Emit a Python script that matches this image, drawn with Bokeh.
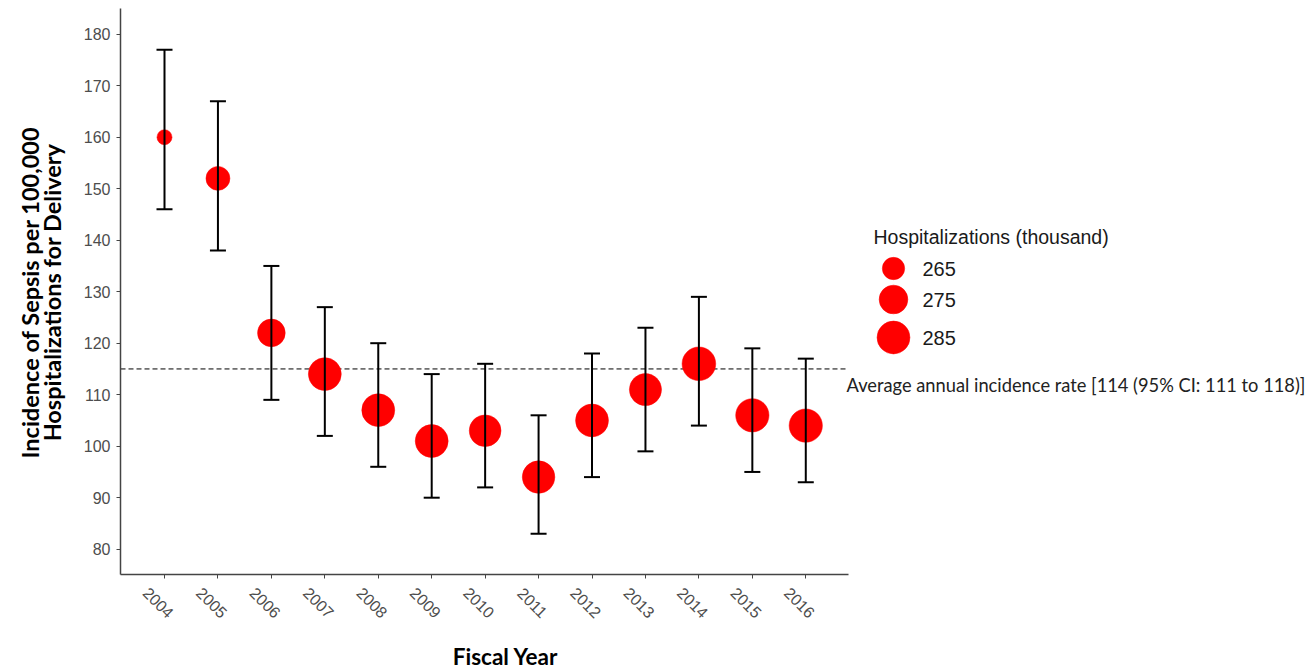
import numpy as np
from bokeh.plotting import figure
from bokeh.models import Range1d, FixedTicker, ColumnDataSource
from bokeh.core.properties import value
from bokeh.embed import file_html
from bokeh.resources import INLINE

# ---------------- data ----------------
years = [2004, 2005, 2006, 2007, 2008, 2009, 2010, 2011, 2012, 2013, 2014, 2015, 2016]
year_labels = [str(y) for y in years]
incidence = [160, 152, 122, 114, 107, 101, 103, 94, 105, 111, 116, 106, 104]
ci_lower = [146, 138, 109, 102, 96, 90, 92, 83, 94, 99, 104, 95, 93]
ci_upper = [177, 167, 135, 127, 120, 114, 116, 106, 118, 123, 129, 119, 117]
hospitalizations = [261, 267, 273, 285, 285, 285, 282, 284, 285, 283, 287, 286, 286]  # thousand
legend_values = [265, 275, 285]
average_rate = 115
average_text = "Average annual incidence rate [114 (95% CI: 111 to 118)]"
y_title_lines = ["Incidence of Sepsis per 100,000", "Hospitalizations for Delivery"]
x_title = "Fiscal Year"
legend_title = "Hospitalizations (thousand)"
y_ticks = list(range(80, 181, 10))

# ---------------- size scale (area-like, like ggplot scale_size) ----------------
V_MIN, V_MAX = 261.0, 288.0
D_MIN, D_MAX = 15.0, 34.0


def size_scale(v):
    v = np.asarray(v, dtype=float)
    return D_MIN + (D_MAX - D_MIN) * np.sqrt(np.clip((v - V_MIN) / (V_MAX - V_MIN), 0, 1))


# ---------------- layout (frame covers the whole canvas) ----------------
W, H = 1309, 671
PX_PER_YEAR = 53.44
X_AXIS_START = 2004 - (164 - 120) / PX_PER_YEAR     # at page x = 120
X_AXIS_END = X_AXIS_START + (848 - 120) / PX_PER_YEAR
X0 = X_AXIS_START - 120 / PX_PER_YEAR
X1 = X0 + W / PX_PER_YEAR
PX_PER_UNIT = 5.15
Y_AXIS_TOP = 184.99          # at page y = 8
Y_AXIS_BOTTOM = 75.09        # at page y = 574
Y1 = Y_AXIS_TOP + 8 / PX_PER_UNIT
Y0 = Y1 - H / PX_PER_UNIT


def px_x(page_x):
    return X0 + page_x / PX_PER_YEAR


def px_y(page_y):
    return Y1 - page_y / PX_PER_UNIT


p = figure(width=W, height=H, output_backend="svg", toolbar_location=None,
           x_range=Range1d(X0, X1), y_range=Range1d(Y0, Y1),
           min_border_left=0, min_border_right=0, min_border_top=0, min_border_bottom=0)
p.outline_line_color = None
p.xgrid.visible = False
p.ygrid.visible = False
p.background_fill_color = "white"

# axes
axis_col = "#444444"
p.xaxis.ticker = FixedTicker(ticks=years)
p.xaxis.bounds = (X_AXIS_START, X_AXIS_END)
p.xaxis.fixed_location = Y_AXIS_BOTTOM
p.xaxis.major_label_overrides = {y: "" for y in years}
p.yaxis.ticker = FixedTicker(ticks=y_ticks)
p.yaxis.bounds = (Y_AXIS_BOTTOM, Y_AXIS_TOP)
p.yaxis.fixed_location = X_AXIS_START
for ax in (p.xaxis[0], p.yaxis[0]):
    ax.axis_line_color = axis_col
    ax.axis_line_width = 1.5
    ax.major_tick_line_color = axis_col
    ax.major_tick_in = 0
    ax.major_tick_out = 4
    ax.minor_tick_line_color = None
    ax.major_label_text_font = "Liberation Sans"
    ax.major_label_text_font_size = "16px"
    ax.major_label_text_color = "#4d4d4d"
p.yaxis.major_label_standoff = 6

# y title (two rotated lines)
p.text(x=[px_x(29), px_x(51)], y=[px_y(292)] * 2, text=y_title_lines, angle=np.pi / 2,
       text_font=value("Lato"), text_font_style="bold", text_font_size="23.5px",
       text_color="black", text_align="center", text_baseline="middle")

# rotated x tick labels and x title
p.text(x=years, y=[px_y(602)] * len(years), text=year_labels, angle=-np.pi / 4, x_offset=-6,
       text_font=value("Liberation Sans"), text_font_size="16px", text_color="#4d4d4d",
       text_align="center", text_baseline="middle")
p.text(x=[px_x(505)], y=[px_y(656)], text=[x_title], text_font=value("Lato"),
       text_font_style="bold", text_font_size="22.5px", text_color="black",
       text_align="center", text_baseline="middle")

# average line
p.segment(x0=[X_AXIS_START], y0=[average_rate], x1=[X_AXIS_END], y1=[average_rate],
          line_color="black", line_width=1, line_dash="5 3")
p.text(x=[px_x(846)], y=[px_y(384)], text=[average_text],
       text_font=value("Lato"), text_font_size="18.3px", text_color="#222222",
       text_baseline="middle", text_align="left")

# points
src = ColumnDataSource(dict(x=years, y=incidence, lo=ci_lower, hi=ci_upper,
                            size=size_scale(hospitalizations)))
p.scatter("x", "y", size="size", source=src, fill_color="#ff0000", line_color="#ff0000",
          line_width=0.5)
# error bars on top
p.segment(x0="x", y0="lo", x1="x", y1="hi", source=src, line_color="black", line_width=2)
p.scatter("x", "lo", source=src, marker="dash", size=16, line_color="black", line_width=2)
p.scatter("x", "hi", source=src, marker="dash", size=16, line_color="black", line_width=2)

# size legend
leg_x_circle = px_x(893)
leg_x_text = px_x(922)
leg_ys = [px_y(268), px_y(299), px_y(337)]
p.text(x=[px_x(873)], y=[px_y(236)], text=[legend_title],
       text_font=value("Liberation Sans"), text_font_size="19.5px", text_color="#1a1a1a",
       text_baseline="middle", text_align="left")
p.scatter(x=[leg_x_circle] * len(legend_values), y=leg_ys, size=size_scale(legend_values),
          fill_color="#ff0000", line_color="#ff0000", line_width=0.5)
p.text(x=[leg_x_text] * len(legend_values), y=leg_ys, text=[str(v) for v in legend_values],
       text_font=value("Liberation Sans"), text_font_size="20px", text_color="#1a1a1a",
       text_baseline="middle", text_align="left")

open("out.html", "w").write(file_html(p, INLINE))
